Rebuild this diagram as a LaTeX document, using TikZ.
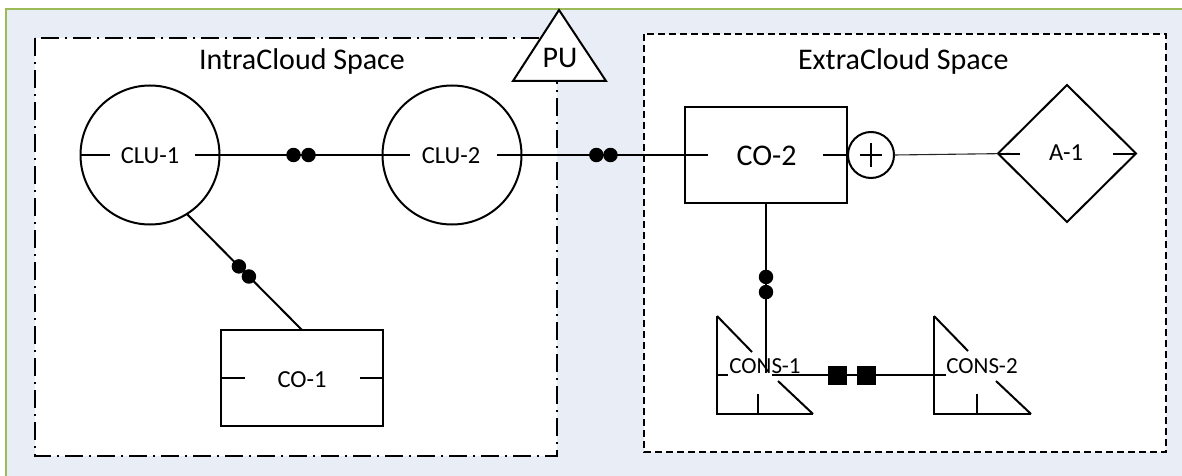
\documentclass[tikz,border=0pt]{standalone}
\usepackage{fontspec}
\setmainfont{Carlito}
\usetikzlibrary{shapes.geometric}
\definecolor{bgblue}{RGB}{233,237,245}
\definecolor{framegreen}{RGB}{155,187,89}
\tikzset{
  shp/.style={draw=black, line width=2pt, fill=white, inner sep=0pt, outer sep=0pt},
  lbl/.style={font=\fontsize{24.5}{28}\selectfont, inner sep=0pt, anchor=base},
  conslbl/.style={font=\fontsize{23}{27}\selectfont, inner sep=0pt, anchor=base},
  biglbl/.style={font=\fontsize{30}{34}\selectfont, inner sep=0pt, anchor=base},
  bigleft/.style={font=\fontsize{30}{34}\selectfont, inner sep=0pt, anchor=base west},
  dot/.style={circle, fill=black, draw=none, inner sep=0pt, minimum size=14.5pt},
  sqr/.style={rectangle, fill=black, draw=none, inner sep=0pt, minimum size=19pt},
  dashdotbox/.style={draw=black, line width=2pt, fill=white, dash pattern=on 18pt off 6pt on 2pt off 6pt},
  dashbox/.style={draw=black, line width=2pt, fill=white, dash pattern=on 7pt off 4pt},
  link/.style={draw=black, line width=2pt},
  thinlink/.style={draw=black!85, line width=1.1pt}
}
\begin{document}
\begin{tikzpicture}[x=1pt,y=-1pt, line width=2pt]
\useasboundingbox (0,0) rectangle (1182,476);
\fill[white] (0,0) rectangle (1182,476);
\fill[bgblue] (6,9) rectangle (1182,476);
\draw[framegreen, line width=2.2pt] (6,476) -- (6,9) -- (1182,9);

% regions
\draw[dashdotbox] (35,38) rectangle (557,456);
\draw[dashbox] (644,34) rectangle (1166,452);
\node[bigleft] (tintra) at (198,70) {IntraCloud Space};
\node[bigleft] (textra) at (797,70) {ExtraCloud Space};

% PU
\draw[shp] (559,10) -- (606,81) -- (513,81) -- cycle;
\node[biglbl] (pu) at (560,68) {PU};

% CLU circles
\node[shp, circle, minimum size=139pt] (clu1) at (150,155) {};
\node[shp, circle, minimum size=139pt] (clu2) at (452,155) {};
\node[lbl] (tclu1) at (150,163.5) {CLU-1};
\node[lbl] (tclu2) at (451,163.5) {CLU-2};
\draw (clu1.west) -- ++(29,0);
\draw (clu1.east) -- ++(-25,0);
\draw (clu2.west) -- ++(27,0);
\draw (clu2.east) -- ++(-25,0);

% CO boxes
\node[shp, rectangle, minimum width=162pt, minimum height=96pt] (co1) at (302,378) {};
\node[lbl] (tco1) at (302,387) {CO-1};
\draw (co1.west) -- ++(24,0);
\draw (co1.east) -- ++(-23,0);

\node[shp, rectangle, minimum width=162pt, minimum height=96pt] (co2) at (766,155) {};
\node[biglbl] (tco2) at (766.5,165) {CO-2};
\draw (co2.west) -- ++(23,0);
\draw (co2.east) -- ++(-24,0);

% plus circle
\node[shp, circle, minimum size=46pt] (plus) at (871,155) {};
\draw[line width=1.7pt] (plus.center) +(-11,0) -- +(11,0);
\draw[line width=1.7pt] (plus.center) +(0,-12) -- +(0,12);

% A-1 diamond
\node[shp, diamond, minimum width=138pt, minimum height=137pt] (a1) at (1067,153.5) {};
\node[lbl] (ta1) at (1066,160) {A-1};

% connectors
\draw[thinlink] (plus.east) -- (1010,153.5);
\draw (a1.west) -- ++(22,0);
\draw (a1.east) -- ++(-23,0);

\path[link] (clu1) -- node[dot,pos=.454]{} node[dot,pos=.546]{} (clu2);
\path[link] (clu2) -- node[dot,pos=.458]{} node[dot,pos=.544]{} (co2);
\path[link] (clu1.-58) -- node[dot,pos=.452]{} node[dot,pos=.539]{} (co1.north);

% CONS-1
\begin{scope}[shift={(717,414)}]
\draw (0,-98) -- (0,0) -- (96,0);
\draw (0,-98) -- (35,-62);
\draw (61,-33) -- (96,0);
\draw (0,-39) -- (11,-39);
\draw (41,0) -- (41,-20);
\coordinate (cons1n) at (49,-41);
\coordinate (cons1e) at (55,-39);
\node[conslbl] (tcons1) at (48,-40.5) {CONS-1};
\end{scope}

% CONS-2
\begin{scope}[shift={(934,414)}]
\draw (0,-98) -- (0,0) -- (97,0);
\draw (0,-98) -- (34,-63);
\draw (62,-33) -- (97,0);
\draw (0,-39) -- (12,-39);
\draw (43,0) -- (43,-20);
\coordinate (cons2w) at (0,-39);
\node[conslbl] (tcons2) at (48,-40.5) {CONS-2};
\end{scope}

\path[link] (co2.south) -- node[dot,pos=.435]{} node[dot,pos=.524]{} (cons1n);
\path[link] (cons1e) -- node[sqr,pos=.407]{} node[sqr,pos=.586]{} (cons2w);
\end{tikzpicture}
\end{document}
